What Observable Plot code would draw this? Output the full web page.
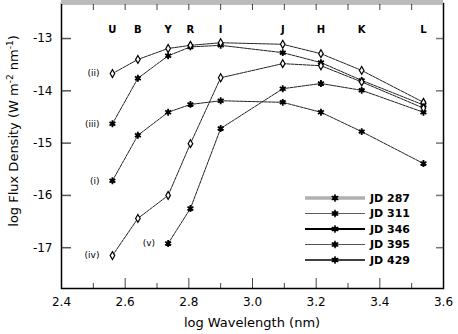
<!DOCTYPE html>
<html><head><meta charset="utf-8">
<script src="https://cdn.jsdelivr.net/npm/d3@7"></script>
<script src="https://cdn.jsdelivr.net/npm/@observablehq/plot@0.6"></script>
<style>body{margin:0;background:#fff} svg{display:block}</style>
</head><body><div id="chart"></div>
<script>
// ---- data ----
const bands = ["U", "B", "Y", "R", "I", "J", "H", "K", "L"];
const bandLogWl = [2.56, 2.64, 2.735, 2.805, 2.90, 3.095, 3.215, 3.343, 3.537];
const seriesNames = ["JD 287", "JD 311", "JD 346", "JD 395", "JD 429"];
const seriesTags = ["(i)", "(ii)", "(iii)", "(iv)", "(v)"];
const jd287 = [-15.72, -14.85, -14.41, -14.26, -14.19, -14.22, -14.41, -14.78, -15.39];
const jd311 = [-13.67, -13.40, -13.19, -13.13, -13.08, -13.11, -13.29, -13.61, -14.22];
const jd346 = [-14.63, -13.76, -13.33, -13.16, -13.13, -13.27, -13.46, -13.80, -14.27];
const jd395 = [-17.15, -16.44, -16.00, -15.01, -13.75, -13.48, -13.52, -13.83, -14.33];
const jd429 = [null, null, -16.92, -16.25, -14.72, -13.96, -13.86, -13.99, -14.41];
const xTicks = [2.4, 2.5, 2.6, 2.7, 2.8, 2.9, 3.0, 3.1, 3.2, 3.3, 3.4, 3.5, 3.6];
const xTickLabels = [2.4, 2.6, 2.8, 3.0, 3.2, 3.4, 3.6];
const yTicks = [-13, -14, -15, -16, -17];
const xTitle = "log Wavelength (nm)";

// ---- layout / styles ----
const W = 458, H = 334, mL = 61, mR = 15, mT = 3, mB = 46;
const fw = W - mL - mR, fh = H - mT - mB;
const seriesValues = [jd287, jd311, jd346, jd395, jd429];
const hollow = {"JD 311": true, "JD 395": true};
const legendStyle = {
  "JD 287": {stroke: "#b0b0b0", width: 3.5},
  "JD 311": {stroke: "#333", width: 0.8},
  "JD 346": {stroke: "#000", width: 2},
  "JD 395": {stroke: "#555", width: 1},
  "JD 429": {stroke: "#000", width: 1.5}
};

const rows = [];
seriesNames.forEach((s, i) => bandLogWl.forEach((x, j) => {
  const v = seriesValues[i][j];
  if (v != null) rows.push({series: s, tag: seriesTags[i], x, y: v});
}));
const firstPoints = seriesNames.map(s => rows.find(r => r.series === s));
const filledRows = rows.filter(r => !hollow[r.series]);
const hollowRows = rows.filter(r => hollow[r.series]);

const plot = Plot.plot({
  width: W, height: H,
  marginLeft: mL, marginRight: mR, marginTop: mT, marginBottom: mB,
  x: {domain: [2.4, 3.6]},
  y: {domain: [-17.78, -12.33]},
  style: {fontFamily: "DejaVu Sans", fontSize: "12px", color: "#000", background: "#fff"},
  marks: [
    Plot.axisX(xTickLabels, {tickSize: 0, tickPadding: 9, tickFormat: d3.format(".1f"), label: null, fontSize: 12}),
    Plot.axisY(yTicks, {tickSize: 0, tickPadding: 9, tickFormat: d => String(d), label: null, fontSize: 12}),
    // inward ticks
    Plot.tickX(xTicks.filter(t => !xTickLabels.includes(t)), {x: d => d, insetTop: fh - 5, stroke: "#444"}),
    Plot.tickX(xTickLabels, {x: d => d, insetTop: fh - 10, stroke: "#444"}),
    Plot.tickX(xTicks, {x: d => d, insetBottom: fh - 7, stroke: "#444"}),
    Plot.tickY(yTicks, {y: d => d, insetRight: fw - 10, stroke: "#555", strokeWidth: 1.5}),
    Plot.tickY(yTicks, {y: d => d, insetLeft: fw - 7, stroke: "#777", strokeWidth: 1.5}),
    // band labels
    Plot.text(bands, {x: (d, i) => bandLogWl[i], text: d => d, frameAnchor: "top", dy: 22, fontWeight: "bold", fontSize: 10}),
    // series
    Plot.line(rows, {x: "x", y: "y", z: "series", stroke: "#222", strokeWidth: 1, strokeDasharray: "3,1"}),
    Plot.dot(filledRows, {x: "x", y: "y", symbol: "asterisk", r: 3.2, stroke: "#000", strokeWidth: 1.8}),
    Plot.dot(filledRows, {x: "x", y: "y", r: 2, fill: "#000"}),
    Plot.dot(hollowRows, {x: "x", y: "y", symbol: "diamond", r: 2.4, fill: "#fff", stroke: "#000", strokeWidth: 1.2}),
    Plot.text(firstPoints, {x: "x", y: "y", text: "tag", textAnchor: "end", dx: -13, fontSize: 9}),
    Plot.frame({stroke: "#000", strokeWidth: 1.5})
  ]
});

const svg = d3.select(plot);
// gray top border
svg.append("line").attr("x1", mL).attr("x2", W - mR).attr("y1", 2).attr("y2", 2)
  .attr("stroke", "#bbb").attr("stroke-width", 4);

// axis titles
svg.append("text").attr("x", mL + fw / 2).attr("y", 327).attr("text-anchor", "middle")
  .attr("font-family", "DejaVu Sans").attr("font-size", 13).text(xTitle);
const yt = svg.append("text").attr("transform", "translate(18,131) rotate(-90)")
  .attr("text-anchor", "middle").attr("font-family", "DejaVu Sans").attr("font-size", 13);
yt.append("tspan").text("log Flux Density (W m");
yt.append("tspan").attr("dy", -5).attr("font-size", 9).text("-2");
yt.append("tspan").attr("dy", 5).text(" nm");
yt.append("tspan").attr("dy", -5).attr("font-size", 9).text("-1");
yt.append("tspan").attr("dy", 5).text(")");

// legend
const lg = svg.append("g").attr("font-family", "DejaVu Sans").attr("font-size", 11)
  .attr("font-weight", "bold").attr("text-anchor", "start");
seriesNames.forEach((s, i) => {
  const y = 198 + i * 15.5;
  const st = legendStyle[s];
  lg.append("line").attr("x1", 305).attr("x2", 365).attr("y1", y).attr("y2", y)
    .attr("stroke", st.stroke).attr("stroke-width", st.width);
  lg.append("circle").attr("cx", 335).attr("cy", y).attr("r", 2.5).attr("fill", "#000");
  lg.append("path").attr("d", d3.symbol(d3.symbolAsterisk, 40)()).attr("transform", `translate(335,${y})`)
    .attr("stroke", "#000").attr("stroke-width", 1.5);
  lg.append("text").attr("x", 370).attr("y", y).attr("dy", "0.36em").attr("text-anchor", "start").text(s);
});

document.getElementById("chart").appendChild(plot);
</script>
</body></html>
